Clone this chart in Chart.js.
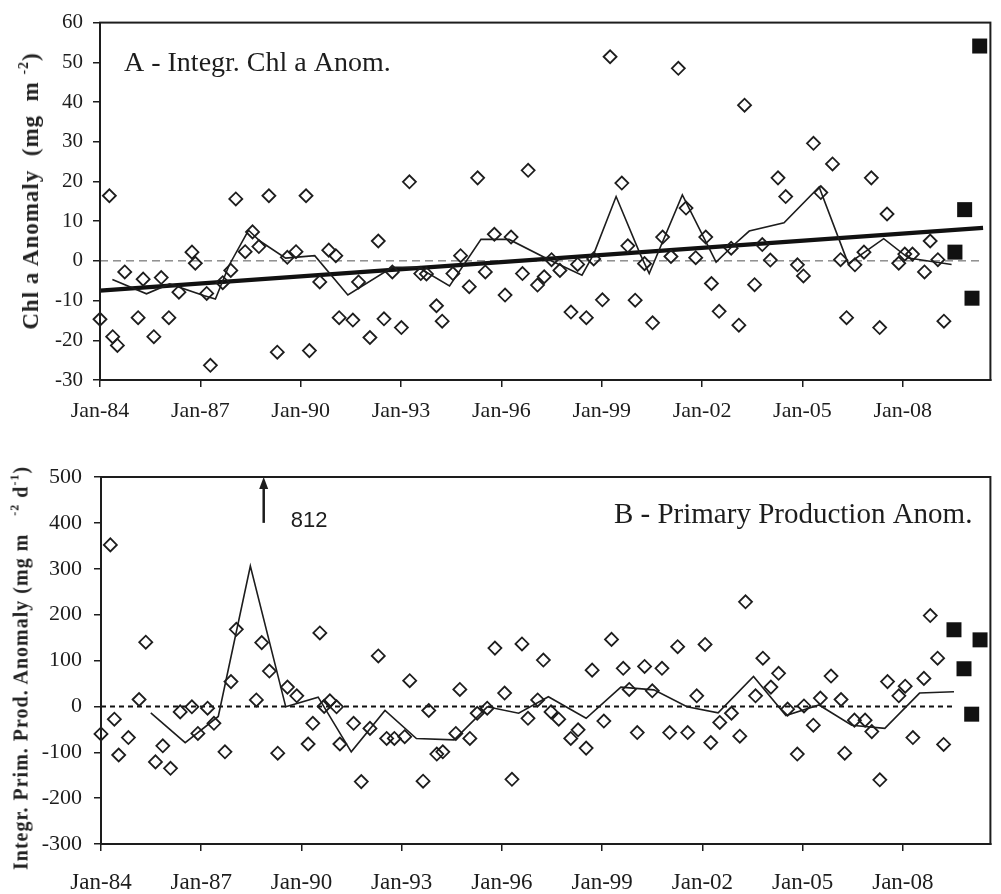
<!DOCTYPE html>
<html>
<head>
<meta charset="utf-8">
<title>Chl a and primary production anomalies</title>
<script src="https://cdn.jsdelivr.net/npm/chart.js@4.4.0/dist/chart.umd.min.js"></script>
<style>
  html, body { margin: 0; padding: 0; background: #fff; }
  #page { position: relative; width: 1001px; height: 894px; overflow: hidden; }
  #page canvas { position: absolute; left: 0; }
  #chartA { top: 0; }
  #chartB { top: 430px; }
  .axis-title {
    position: absolute;
    font-family: 'Liberation Serif', 'Times New Roman', serif;
    font-weight: bold;
    color: #222;
    white-space: nowrap;
    transform: translate(-50%, -50%) rotate(-90deg);
  }
  .axis-title sup { font-size: 0.6em; vertical-align: 0.75em; line-height: 0; }
</style>
</head>
<body>
<div id="page">
  <canvas id="chartA" width="1001" height="430"></canvas>
  <canvas id="chartB" width="1001" height="464"></canvas>
  <div class="axis-title" style="left:31px; top:191px; font-size:23px; letter-spacing:1px;">Chl a Anomaly&nbsp; (mg&nbsp; m&nbsp;<sup>-2</sup>)</div>
  <div class="axis-title" style="left:21px; top:668px; font-size:20px; letter-spacing:1px;">Integr. Prim. Prod. Anomaly (mg m&nbsp;&nbsp; <sup>-2</sup> d<sup>-1</sup>)</div>
</div>

<script>
// ---- shared x axis (decimal years) ----
const xMin = 1984;
const xMax = 2010.62;
const tickYears = [1984, 1987, 1990, 1993, 1996, 1999, 2002, 2005, 2008];
const tickLabels = ['Jan-84', 'Jan-87', 'Jan-90', 'Jan-93', 'Jan-96', 'Jan-99', 'Jan-02', 'Jan-05', 'Jan-08'];

// ---- A: integrated Chl a anomaly (mg m-2) ----
const chlDates = [
    1984.00, 1984.28, 1984.38, 1984.52, 1984.74, 1985.14, 1985.29, 1985.61, 1985.83, 1986.06,
    1986.36, 1986.75, 1986.85, 1987.19, 1987.30, 1987.67, 1987.91, 1988.06, 1988.34, 1988.56,
    1988.75, 1989.05, 1989.30, 1989.60, 1989.86, 1990.16, 1990.26, 1990.57, 1990.84, 1991.05,
    1991.15, 1991.56, 1991.73, 1992.07, 1992.32, 1992.49, 1992.74, 1993.01, 1993.25, 1993.59,
    1993.76, 1994.06, 1994.23, 1994.55, 1994.78, 1995.04, 1995.29, 1995.52, 1995.79, 1996.11,
    1996.29, 1996.63, 1996.80, 1997.08, 1997.28, 1997.50, 1997.75, 1998.08, 1998.28, 1998.54,
    1998.76, 1999.02, 1999.25, 1999.60, 1999.78, 2000.00, 2000.28, 2000.52, 2000.82, 2001.07,
    2001.29, 2001.52, 2001.81, 2002.11, 2002.28, 2002.51, 2002.87, 2003.10, 2003.27, 2003.57,
    2003.80, 2004.04, 2004.27, 2004.50, 2004.85, 2005.03, 2005.33, 2005.55, 2005.90, 2006.14,
    2006.32, 2006.57, 2006.84, 2007.06, 2007.31, 2007.53, 2007.88, 2008.06, 2008.29, 2008.65,
    2008.82, 2009.05, 2009.23
];
const chlValues = [
    -14.7, 16.4, -19.1, -21.3, -2.8, -14.3, -4.6, -19.1, -4.2, -14.3,
    -7.9, 2.2, -0.6, -8.2, -26.3, -5.5, -2.4, 15.6, 2.3, 7.3,
    3.6, 16.4, -23.0, 0.9, 2.3, 16.4, -22.6, -5.3, 2.7, 1.3,
    -14.3, -14.9, -5.3, -19.3, 5.0, -14.6, -2.8, -16.8, 19.9, -3.2,
    -3.3, -11.3, -15.2, -3.2, 1.3, -6.5, 20.9, -2.8, 6.7, -8.6,
    6.0, -3.2, 22.8, -6.1, -4.0, 0.3, -2.4, -12.9, -0.9, -14.3,
    0.5, -9.8, 51.4, 19.6, 3.8, -9.9, -0.7, -15.6, 6.0, 1.1,
    48.5, 13.3, 0.8, 6.0, -5.7, -12.7, 3.2, -16.2, 39.2, -6.0,
    4.1, 0.2, 20.9, 16.2, -1.0, -3.8, 29.6, 17.2, 24.4, 0.3,
    -14.3, -1.0, 2.2, 20.9, -16.8, 11.8, -0.6, 1.7, 1.7, -2.8,
    5.0, 0.3, -15.2
];
// latest cruises, filled squares
const chlRecentDates = [2009.56, 2009.85, 2010.07, 2010.30];
const chlRecentValues = [2.2, 12.9, -9.4, 54.1];
// thin smoothed line
const chlMeanDates = [
    1984.37, 1985.39, 1986.08, 1987.12, 1987.45, 1987.86, 1988.44, 1988.78, 1989.55, 1990.42,
    1991.41, 1992.74, 1993.51, 1994.45, 1995.39, 1996.23, 1997.47, 1998.41, 1998.76, 1999.43,
    2000.15, 2000.42, 2001.41, 2002.42, 2002.92, 2003.41, 2004.45, 2005.50, 2006.37, 2007.43,
    2008.17, 2009.46
];
const chlMeanValues = [
    -4.7, -8.3, -5.8, -8.8, -9.6, -1.1, 7.7, 5.0, 0.7, 1.3,
    -8.6, -1.6, -1.6, -6.3, 5.4, 5.4, 0.1, -3.6, 1.7, 16.2,
    1.7, -3.2, 16.6, -0.3, 3.8, 7.5, 9.6, 18.6, -0.7, 5.6,
    0.7, -0.9
];
// linear trend, end points
const chlTrendDates = [1984.0, 2010.40];
const chlTrendValues = [-7.5, 8.3];
const chlZeroDates = [1984.0, 2010.40];
const chlZeroValues = [0, 0];

// ---- B: integrated primary production anomaly (mg m-2 d-1) ----
const ppDates = [
    1984.00, 1984.28, 1984.40, 1984.53, 1984.82, 1985.14, 1985.34, 1985.63, 1985.85, 1986.08,
    1986.37, 1986.72, 1986.90, 1987.19, 1987.38, 1987.71, 1987.89, 1988.05, 1988.65, 1988.81,
    1989.04, 1989.29, 1989.58, 1989.86, 1990.20, 1990.34, 1990.55, 1990.68, 1990.85, 1991.05,
    1991.15, 1991.56, 1991.79, 1992.05, 1992.30, 1992.55, 1992.78, 1993.09, 1993.24, 1993.64,
    1993.81, 1994.05, 1994.23, 1994.62, 1994.74, 1995.04, 1995.26, 1995.56, 1995.79, 1996.08,
    1996.30, 1996.60, 1996.78, 1997.07, 1997.24, 1997.47, 1997.70, 1998.06, 1998.28, 1998.52,
    1998.70, 1999.05, 1999.28, 1999.63, 1999.81, 2000.05, 2000.27, 2000.50, 2000.79, 2001.02,
    2001.26, 2001.56, 2001.83, 2002.08, 2002.25, 2002.52, 2002.87, 2003.12, 2003.29, 2003.59,
    2003.81, 2004.05, 2004.28, 2004.55, 2004.84, 2005.04, 2005.32, 2005.53, 2005.85, 2006.15,
    2006.26, 2006.55, 2006.87, 2007.07, 2007.31, 2007.54, 2007.88, 2008.07, 2008.30, 2008.63,
    2008.82, 2009.04, 2009.22
];
const ppValues = [
    -60, 352, -28, -106, -68, 15, 140, -121, -86, -135,
    -12, -1, -59, -4, -37, -99, 54, 168, 14, 139,
    77, -102, 42, 23, -82, -37, 160, 0, 12, -1,
    -82, -37, -164, -48, 110, -70, -70, -66, 56, -163,
    -9, -104, -99, -59, 37, -70, -15, -4, 127, 29,
    -159, 136, -26, 14, 101, -12, -28, -70, -51, -91,
    79, -32, 146, 83, 37, -57, 87, 34, 83, -57,
    130, -57, 23, 135, -79, -35, -15, -65, 228, 23,
    105, 42, 72, -6, -104, 1, -41, 18, 66, 15,
    -102, -30, -30, -55, -160, 54, 23, 44, -68, 61,
    198, 105, -83
];
const ppRecentDates = [2009.53, 2009.83, 2010.06, 2010.31];
const ppRecentValues = [167, 82, -17, 145];
const ppMeanDates = [
    1985.49, 1986.52, 1987.51, 1988.47, 1989.53, 1990.50, 1991.49, 1992.50, 1993.44, 1994.57,
    1995.56, 1996.50, 1997.39, 1998.52, 1999.56, 2000.55, 2001.54, 2002.47, 2003.53, 2004.50,
    2005.49, 2006.47, 2007.46, 2008.50, 2009.53
];
const ppMeanValues = [
    -14, -79, -22, 306, -1, 20, -99, -9, -70, -73,
    -1, -15, 21, -26, 42, 36, -1, -14, 65, -20,
    3, -41, -48, 29, 32
];
const ppZeroDates = [1984.0, 2009.53];
const ppZeroValues = [0, 0];
// one cruise is off the scale; marked with an arrow and its value
const ppOffScaleDate = 1988.87;
const ppOffScaleValue = 812;

const INK = '#1d1d1d';
Chart.defaults.font.family = "'Liberation Serif', 'Times New Roman', serif";
Chart.defaults.color = INK;

const pts = (xs, ys) => xs.map((x, i) => ({ x: x, y: ys[i] }));

/**
 * Frame round the plot area, the panel label and the off-scale arrow
 */
const panelDecor = {
    id: 'panelDecor',
    afterDraw(chart, args, opts) {
        const { ctx, chartArea: a, scales } = chart;
        ctx.save();
        ctx.strokeStyle = INK;
        ctx.lineWidth = 2;
        ctx.strokeRect(a.left, a.top, a.right - a.left, a.bottom - a.top);

        ctx.fillStyle = INK;
        ctx.font = opts.titleFont;
        ctx.textBaseline = 'alphabetic';
        ctx.textAlign = opts.titleAlign;
        const tx = opts.titleAlign === 'right' ? a.right - opts.titleDx : a.left + opts.titleDx;
        ctx.fillText(opts.title, tx, a.top + opts.titleDy);

        if (opts.arrow) {
            const x = scales.x.getPixelForValue(opts.arrow.x);
            const yFrom = scales.y.getPixelForValue(opts.arrow.from);
            const yTop = scales.y.getPixelForValue(scales.y.max);
            ctx.lineWidth = 2.5;
            ctx.beginPath();
            ctx.moveTo(x, yFrom);
            ctx.lineTo(x, yTop + 8);
            ctx.stroke();
            ctx.beginPath();
            ctx.moveTo(x, yTop);
            ctx.lineTo(x - 4.5, yTop + 12);
            ctx.lineTo(x + 4.5, yTop + 12);
            ctx.closePath();
            ctx.fill();
            ctx.font = opts.arrow.font;
            ctx.textAlign = 'left';
            ctx.fillText(String(opts.arrow.value), x + 27, yFrom + 4.5);
        }
        ctx.restore();
    }
};

function diamonds(data) {
    return {
        data: data,
        showLine: false,
        pointStyle: 'rectRot',
        pointRadius: 6.5,
        pointBorderWidth: 1.8,
        pointBorderColor: INK,
        pointBackgroundColor: 'rgba(0,0,0,0)',
        clip: false
    };
}

function squares(data) {
    return {
        data: data,
        showLine: false,
        pointStyle: 'rect',
        pointRadius: 10.6,
        pointBorderWidth: 0,
        pointBackgroundColor: '#111',
        clip: false
    };
}

function line(data, width, dash, color) {
    return {
        data: data,
        showLine: true,
        pointRadius: 0,
        borderColor: color || INK,
        borderWidth: width,
        borderDash: dash || [],
        clip: false
    };
}

function panelOptions(cfg) {
    return {
        responsive: false,
        animation: false,
        events: [],
        devicePixelRatio: 1,
        layout: { padding: cfg.padding },
        plugins: {
            legend: { display: false },
            tooltip: { enabled: false },
            panelDecor: cfg.decor
        },
        scales: {
            x: {
                type: 'linear',
                min: xMin,
                max: xMax,
                afterBuildTicks: (scale) => { scale.ticks = tickYears.map(v => ({ value: v })); },
                afterFit: (scale) => { scale.height = 50; },
                ticks: {
                    callback: (value, index) => tickLabels[index],
                    font: { size: cfg.xFont },
                    padding: cfg.xPad,
                    maxRotation: 0,
                    autoSkip: false
                },
                grid: { drawOnChartArea: false, tickLength: 7, color: INK, lineWidth: 1.5 },
                border: { color: INK, width: 2 }
            },
            y: {
                min: cfg.yMin,
                max: cfg.yMax,
                afterFit: (scale) => { scale.width = cfg.yWidth; },
                ticks: { stepSize: cfg.yStep, font: { size: cfg.yFont }, padding: cfg.yPad },
                grid: { drawOnChartArea: false, tickLength: 7, color: INK, lineWidth: 1.5 },
                border: { color: INK, width: 2 }
            }
        }
    };
}

new Chart(document.getElementById('chartA'), {
    type: 'scatter',
    data: {
        datasets: [
            diamonds(pts(chlDates, chlValues)),
            squares(pts(chlRecentDates, chlRecentValues)),
            line(pts(chlMeanDates, chlMeanValues), 1.6),
            line(pts(chlTrendDates, chlTrendValues), 4.2, null, '#111'),
            line(pts(chlZeroDates, chlZeroValues), 1, [8, 5], '#555')
        ]
    },
    options: panelOptions({
        padding: { top: 16, right: 5, left: 0, bottom: 0 },
        yMin: -30, yMax: 60, yStep: 10,
        yWidth: 100, yFont: 21, yPad: 10,
        xFont: 22, xPad: 11,
        decor: {
            title: 'A - Integr. Chl a Anom.',
            titleFont: "28px 'Liberation Serif', serif",
            titleAlign: 'left', titleDx: 24, titleDy: 48
        }
    }),
    plugins: [panelDecor]
});

new Chart(document.getElementById('chartB'), {
    type: 'scatter',
    data: {
        datasets: [
            diamonds(pts(ppDates, ppValues)),
            squares(pts(ppRecentDates, ppRecentValues)),
            line(pts(ppMeanDates, ppMeanValues), 1.6),
            line(pts(ppZeroDates, ppZeroValues), 2, [5, 4], '#111')
        ]
    },
    options: panelOptions({
        padding: { top: 47, right: 1, left: 0, bottom: 0 },
        yMin: -300, yMax: 500, yStep: 100,
        yWidth: 101, yFont: 22, yPad: 12,
        xFont: 23, xPad: 18,
        decor: {
            title: 'B - Primary Production Anom.',
            titleFont: "29px 'Liberation Serif', serif",
            titleAlign: 'right', titleDx: 18, titleDy: 46,
            arrow: { x: ppOffScaleDate, value: ppOffScaleValue, from: 400, font: "22px 'Liberation Sans', Arial, sans-serif" }
        }
    }),
    plugins: [panelDecor]
});
</script>
</body>
</html>
